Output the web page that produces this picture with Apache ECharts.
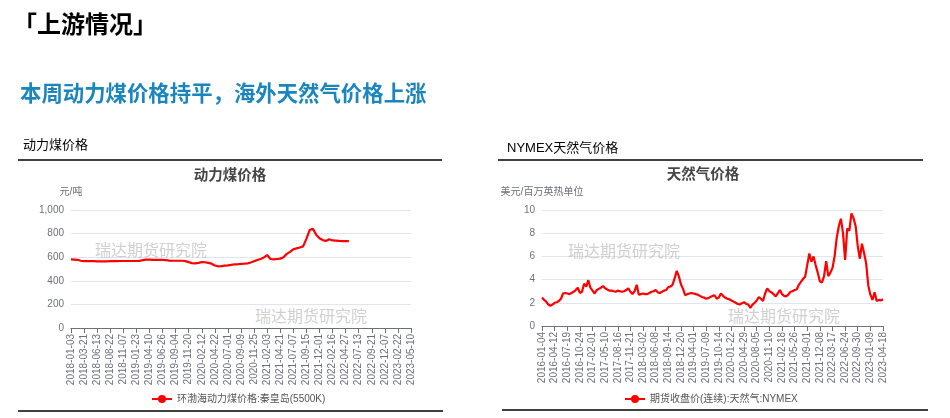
<!DOCTYPE html>
<html>
<head>
<meta charset="utf-8">
<script src="https://cdn.jsdelivr.net/npm/echarts@6/dist/echarts.min.js"></script>
<style>
html,body{margin:0;padding:0;background:#fff;}
#c{width:950px;height:418px;}
</style>
</head>
<body>
<div id="c"></div>
<script>
// ---- Data ----
const coalTickLabels = ['2018-01-03','2018-03-21','2018-06-13','2018-08-22','2018-11-07','2019-01-23','2019-04-10','2019-06-26','2019-09-04','2019-11-20','2020-02-12','2020-04-22','2020-07-01','2020-09-09','2020-11-25','2021-02-03','2021-04-21','2021-07-07','2021-09-15','2021-12-01','2022-02-16','2022-04-27','2022-07-13','2022-09-21','2022-12-07','2023-02-22','2023-05-10'];
const coalValues = [582,580,578,570,567,566,566,566,565,565,565,565,566,567,567,568,568,568,568,568,568,569,576,579,579,578,578,577,577,576,571,570,570,570,570,567,558,550,548,552,558,557,552,545,530,523,525,528,531,535,540,540,543,545,548,555,565,576,585,598,618,585,582,585,588,600,628,645,667,675,682,692,755,830,842,790,760,745,737,752,742,740,738,737,737,736];
const coalName = '环渤海动力煤价格:秦皇岛(5500K)';

const gasTickLabels = ['2016-01-04','2016-04-12','2016-07-19','2016-10-24','2017-02-01','2017-05-10','2017-08-16','2017-11-21','2018-03-02','2018-06-08','2018-09-14','2018-12-20','2019-04-01','2019-07-09','2019-10-14','2020-01-22','2020-04-29','2020-08-05','2020-11-10','2021-02-18','2021-05-26','2021-09-01','2021-12-08','2022-03-17','2022-06-24','2022-09-30','2023-01-09','2023-04-18'];
const gasValues = [2.45,2.25,2.1,1.85,1.75,1.85,2.0,2.05,2.15,2.35,
2.8,2.85,2.8,2.75,2.85,2.95,3.1,3.3,2.85,2.95,
3.65,3.4,3.95,3.3,3.05,2.8,3.1,3.2,3.3,3.45,
3.25,3.15,3.05,3.05,3.0,2.95,3.05,3.0,2.95,3.0,
3.1,3.25,2.95,2.75,3.0,3.55,2.7,2.75,2.8,2.75,
2.75,2.85,2.95,3.0,3.1,2.9,2.85,2.95,3.05,3.1,
3.35,3.4,3.55,4.1,4.75,4.3,3.6,3.2,2.65,2.75,
2.8,2.85,2.8,2.75,2.7,2.6,2.5,2.45,2.35,2.4,
2.5,2.6,2.65,2.35,2.45,2.8,2.6,2.45,2.35,2.3,
2.2,2.1,2.0,1.9,1.85,1.97,2.05,1.9,1.85,1.55,
1.85,2.0,2.2,2.5,2.35,2.15,2.8,3.25,3.0,2.9,
2.75,2.55,2.8,3.1,2.75,2.6,2.55,2.7,2.95,3.0,
3.1,3.15,3.55,3.8,4.05,4.25,5.25,6.25,5.55,6.0,
5.25,4.6,3.85,3.75,4.3,5.6,4.3,4.6,5.0,6.0,
7.6,8.6,9.25,8.0,5.7,8.4,8.2,9.7,9.3,8.6,
6.9,5.8,7.1,6.3,5.4,3.5,2.7,2.25,2.9,2.15,
2.25,2.2,2.3];
const gasName = '期货收盘价(连续):天然气:NYMEX';

const coalSub = 4; // points per labelled interval
const gasSub = 6;

function buildCats(labels, sub){
  const out = [];
  labels.forEach((l, k) => {
    out.push(l);
    if (k < labels.length - 1) for (let s = 1; s < sub; s++) out.push(l + '+' + s);
  });
  return out;
}
const coalCats = buildCats(coalTickLabels, coalSub);
const gasCats = buildCats(gasTickLabels, gasSub);

const FF = "'Liberation Sans','Noto Sans CJK SC',sans-serif";
const chart = echarts.init(document.getElementById('c'), null, {renderer:'canvas'});

function txt(text, x, y, font, fill, align){
  return {type:'text', x:x, y:y, z:10, silent:true,
    style:{text:text, font:font, fill:fill, textAlign:align||'left', textVerticalAlign:'middle'}};
}
function hline(x1,x2,y,w){
  return {type:'line', silent:true, shape:{x1:x1,y1:y,x2:x2,y2:y}, style:{stroke:'#000',lineWidth:w}};
}
const wmFont = "16px " + FF;
const wmColor = 'rgba(170,170,170,0.55)';

function xAx(idx, cats, sub){
  return {type:'category', gridIndex:idx, data:cats, boundaryGap:false,
    axisLine:{lineStyle:{color:'#6e7079'}},
    axisTick:{interval:sub-1, lineStyle:{color:'#6e7079'}},
    axisLabel:{interval:sub-1, rotate:90, fontSize:10, color:'#6e7079', margin:6, fontFamily:FF}};
}

const option = {
  animation:false,
  textStyle:{fontFamily:FF},
  grid:[
    {left:71, right:539, top:210, bottom:90},
    {left:542, right:67, top:210, bottom:92}
  ],
  xAxis:[xAx(0, coalCats, coalSub), xAx(1, gasCats, gasSub)],
  yAxis:[
    {type:'value', gridIndex:0, min:0, max:1000, interval:200,
     name:'元/吨', nameGap:13, nameTextStyle:{fontSize:10, color:'#6e7079', align:'center'},
     axisLabel:{fontSize:10, color:'#6e7079', margin:7,
       formatter:v => v.toLocaleString('en-US')},
     splitLine:{lineStyle:{color:'#e0e6f1'}}},
    {type:'value', gridIndex:1, min:0, max:10, interval:2,
     name:'美元/百万英热单位', nameGap:13, nameTextStyle:{fontSize:10, color:'#6e7079', align:'center'},
     axisLabel:{fontSize:10, color:'#6e7079', margin:7},
     splitLine:{lineStyle:{color:'#e0e6f1'}}}
  ],
  legend:[
    {left:146, top:389, itemWidth:20, itemHeight:10, itemGap:10,
     data:[coalName], textStyle:{fontSize:10, color:'#555'}},
    {left:619, top:389, itemWidth:20, itemHeight:10, itemGap:10,
     data:[gasName], textStyle:{fontSize:10, color:'#555'}}
  ],
  series:[
    {name:coalName, type:'line', xAxisIndex:0, yAxisIndex:0, data:coalValues,
     symbol:'circle', showSymbol:false, color:'#ff0000',
     lineStyle:{width:2.2, color:'#ff0000'}},
    {name:gasName, type:'line', xAxisIndex:1, yAxisIndex:1, data:gasValues,
     symbol:'circle', showSymbol:false, color:'#ff0000',
     lineStyle:{width:2.2, color:'#ff0000'}}
  ],
  graphic:[
    txt('「上游情况」', 13, 26, "bold 24px " + FF, '#000'),
    txt('本周动力煤价格持平，海外天然气价格上涨', 20, 95, "bold 21.4px " + FF, '#1b86bd'),
    txt('动力煤价格', 23, 145, "13px " + FF, '#000'),
    txt('NYMEX天然气价格', 507, 148, "13px " + FF, '#000'),
    hline(18, 442, 160, 1.3),
    hline(498, 923, 160, 1.3),
    hline(18, 443, 411, 1.6),
    hline(502, 928, 410, 1.6),
    txt('动力煤价格', 230, 176, "bold 14.5px " + FF, '#464646', 'center'),
    txt('天然气价格', 703, 175, "bold 14.5px " + FF, '#464646', 'center'),
    txt('瑞达期货研究院', 95, 252, wmFont, wmColor),
    txt('瑞达期货研究院', 255, 318, wmFont, wmColor),
    txt('瑞达期货研究院', 568, 253, wmFont, wmColor),
    txt('瑞达期货研究院', 728, 318, wmFont, wmColor)
  ]
};
chart.setOption(option);
</script>
</body>
</html>
